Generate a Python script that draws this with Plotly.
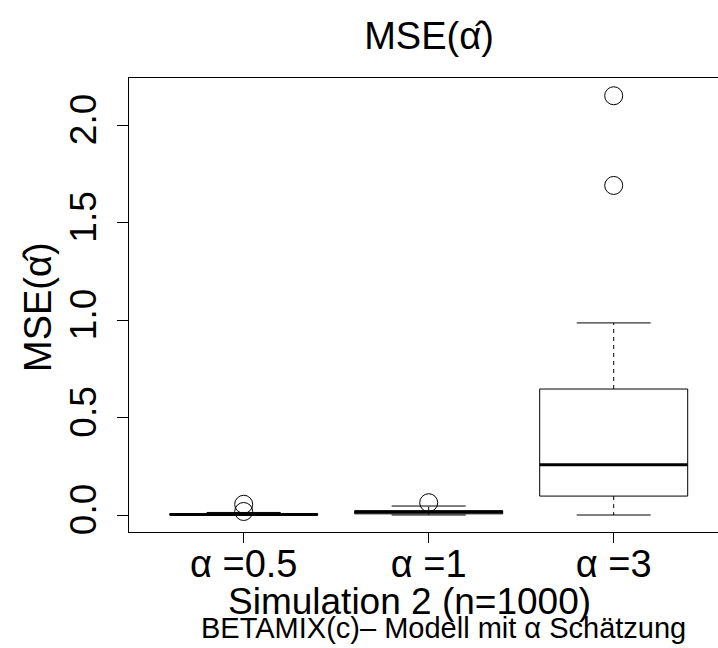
import plotly.graph_objects as go

# ---- data ----
categories = ["α =0.5", "α =1", "α =3"]
positions = [1, 2, 3]
lower_whisker = [0.0, 0.0, 0.0]
q1 = [0.001, 0.006, 0.097]
median = [0.003, 0.016, 0.258]
q3 = [0.006, 0.022, 0.646]
upper_whisker = [0.013, 0.046, 0.985]
outliers = [[0.055, 0.018], [0.063], [2.15, 1.69]]
y_ticks = [0.0, 0.5, 1.0, 1.5, 2.0]
y_tick_labels = ["0.0", "0.5", "1.0", "1.5", "2.0"]

FONT = "Liberation Sans, Arial, Helvetica, sans-serif"
BOX_HALF = 0.4
CAP_HALF = 0.2

fig = go.Figure()
for i, p in enumerate(positions):
    # box outline
    fig.add_trace(go.Scatter(
        x=[p - BOX_HALF, p + BOX_HALF, p + BOX_HALF, p - BOX_HALF, p - BOX_HALF],
        y=[q1[i], q1[i], q3[i], q3[i], q1[i]],
        mode="lines", line=dict(color="black", width=1), showlegend=False, hoverinfo="skip"))
    # whiskers (dashed)
    fig.add_trace(go.Scatter(
        x=[p, p, None, p, p],
        y=[q3[i], upper_whisker[i], None, q1[i], lower_whisker[i]],
        mode="lines", line=dict(color="black", width=1, dash="4px,4px"), showlegend=False, hoverinfo="skip"))
    # caps
    fig.add_trace(go.Scatter(
        x=[p - CAP_HALF, p + CAP_HALF, None, p - CAP_HALF, p + CAP_HALF],
        y=[upper_whisker[i], upper_whisker[i], None, lower_whisker[i], lower_whisker[i]],
        mode="lines", line=dict(color="black", width=1), showlegend=False, hoverinfo="skip"))
    # median
    fig.add_trace(go.Scatter(
        x=[p - BOX_HALF, p + BOX_HALF], y=[median[i], median[i]],
        mode="lines", line=dict(color="black", width=3), showlegend=False, hoverinfo="skip"))
    # outliers
    fig.add_trace(go.Scatter(
        x=[p] * len(outliers[i]), y=outliers[i], mode="markers",
        marker=dict(symbol="circle-open", size=18, color="black", line=dict(width=1)),
        showlegend=False, hoverinfo="skip"))

L, R, T, B = 129, 0, 78, 116
W, H = 718, 648
pw, ph = W - L - R, H - T - B


def px(x):
    return (x - L) / pw


def py(y):
    return (H - B - y) / ph


fig.update_layout(
    width=W, height=H,
    margin=dict(l=L, r=R, t=T, b=B),
    paper_bgcolor="white", plot_bgcolor="white",
    font=dict(family=FONT, color="black"),
    title=dict(text="MSE(α̂)", x=429 / W, xref="container", xanchor="center",
               y=1 - 36 / H, yref="container", yanchor="middle",
               font=dict(size=38, family=FONT)),
    xaxis=dict(range=[0.38, 0.38 + pw / 185], tickmode="array", tickvals=positions,
               ticktext=categories, showgrid=False, zeroline=False,
               showline=True, mirror=True, linecolor="black", linewidth=1,
               ticks="outside", ticklen=10, tickcolor="black", tickwidth=1,
               tickfont=dict(size=38, family=FONT), ticklabelstandoff=-12),
    yaxis=dict(range=[-0.0872, 2.241], tickmode="array", tickvals=y_ticks,
               ticktext=y_tick_labels, showgrid=False, zeroline=False,
               showline=True, linecolor="black", linewidth=1,
               ticks="outside", ticklen=11, tickcolor="black", tickwidth=1,
               tickangle=-90, tickfont=dict(size=37, family=FONT),
               ticklabelstandoff=6),
    annotations=[
        dict(text="MSE(α̂)", x=px(38), y=py(307), xref="paper", yref="paper",
             xanchor="center", yanchor="middle",
             showarrow=False, textangle=-90, font=dict(size=38, family=FONT)),
        dict(text="Simulation 2 (n=1000)", x=px(409), y=py(601),
             xref="paper", yref="paper", xanchor="center", yanchor="middle",
             showarrow=False, font=dict(size=37, family=FONT)),
        dict(text="BETAMIX(c)– Modell mit α Schätzung", x=px(443), y=py(628),
             xref="paper", yref="paper", xanchor="center", yanchor="middle",
             showarrow=False, font=dict(size=29, family=FONT)),
    ],
)

fig.write_html("out.html")
